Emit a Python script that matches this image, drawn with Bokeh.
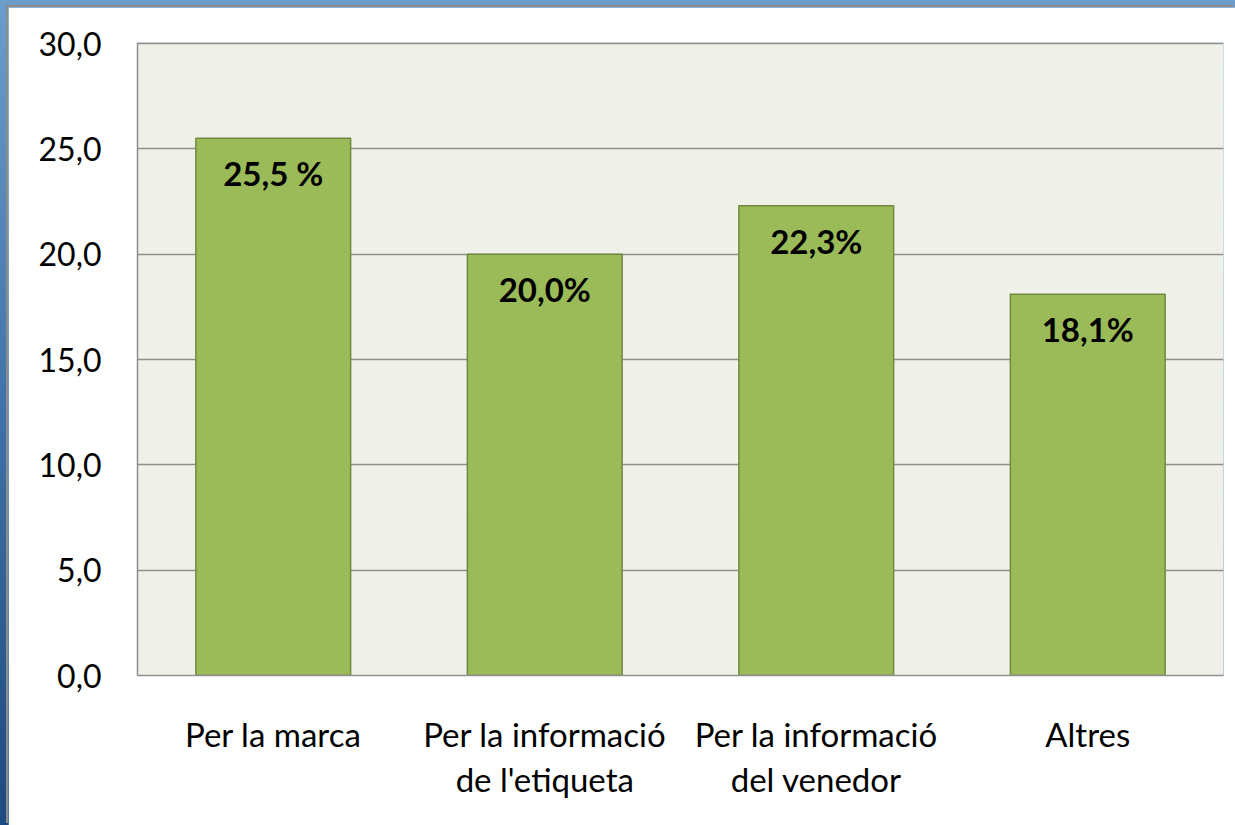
from bokeh.plotting import figure
from bokeh.models import FixedTicker, GlobalInlineStyleSheet, Range1d, LinearAxis
from bokeh.core.properties import value
from bokeh.embed import file_html
from bokeh.resources import INLINE

categories = ["Per la marca", "Per la informació\nde l'etiqueta", "Per la informació\ndel venedor", "Altres"]
values = [25.5, 20.0, 22.3, 18.1]
bar_labels = ["25,5 %", "20,0%", "22,3%", "18,1%"]
y_ticks = [0, 5, 10, 15, 20, 25, 30]
y_tick_labels = ["0,0", "5,0", "10,0", "15,0", "20,0", "25,0", "30,0"]

FONT = "Lato"

page_css = GlobalInlineStyleSheet(css=(
    "body { padding: 7px 0 0 8px !important; "
    "background: linear-gradient(180deg, #6c9dcb 0%, #3f72a9 50%, #1d4a80 100%) !important; }"))

positions = list(range(len(categories)))
first_lines = [c.split("\n")[0] for c in categories]
second_lines = [c.split("\n")[1] if "\n" in c else " " for c in categories]

p = figure(x_range=Range1d(-0.5, len(categories) - 0.5), y_range=(0, 30.05),
           width=1227, height=818, output_backend="svg", toolbar_location=None,
           min_border_left=129, min_border_top=35, min_border_right=12, min_border_bottom=150,
           border_fill_color="white",
           stylesheets=[page_css],
           styles={"box-shadow": "-2px -2px 0 0 #8c8c8c"})

p.background_fill_color = "#eff1e9"
p.outline_line_color = None

p.vbar(x=positions, top=values, width=0.57, fill_color="#9bbb59",
       line_color="#71893f", line_width=1.5)

p.text(x=positions, y=values, text=bar_labels, y_offset=35,
       text_align="center", text_baseline="middle",
       text_font=value(FONT), text_font_style="bold", text_font_size="33px",
       text_color="black")

def style_xaxis(ax, lines, standoff, line_color):
    ax.ticker = FixedTicker(ticks=positions)
    ax.major_label_overrides = {pos: txt for pos, txt in zip(positions, lines)}
    ax.major_tick_line_color = None
    ax.minor_tick_line_color = None
    ax.major_tick_out = 0
    ax.major_tick_in = 0
    ax.minor_tick_out = 0
    ax.major_label_standoff = standoff
    ax.axis_line_color = line_color
    ax.axis_line_width = 1.5
    ax.major_label_text_font = FONT
    ax.major_label_text_font_size = "33px"
    ax.major_label_text_color = "black"

style_xaxis(p.xaxis[0], first_lines, 38, "#8f8f8f")
second_axis = LinearAxis()
style_xaxis(second_axis, second_lines, 2, None)
p.add_layout(second_axis, "below")

p.xgrid.grid_line_color = None
p.ygrid.grid_line_color = "#8f8f8f"
p.ygrid.grid_line_width = 1.5
p.ygrid.ticker = FixedTicker(ticks=y_ticks)

p.yaxis.ticker = FixedTicker(ticks=y_ticks)
p.yaxis.major_label_overrides = {t: l for t, l in zip(y_ticks, y_tick_labels)}
p.yaxis.minor_tick_line_color = None
p.yaxis.major_tick_line_color = None
p.yaxis.major_tick_out = 0
p.yaxis.major_tick_in = 0
p.yaxis.major_label_standoff = 36
p.yaxis.axis_line_color = "#8f8f8f"
p.yaxis.axis_line_width = 1.5
p.yaxis.major_label_text_font = FONT
p.yaxis.major_label_text_font_size = "32px"
p.yaxis.major_label_text_color = "black"

open("out.html", "w").write(file_html(p, INLINE))
